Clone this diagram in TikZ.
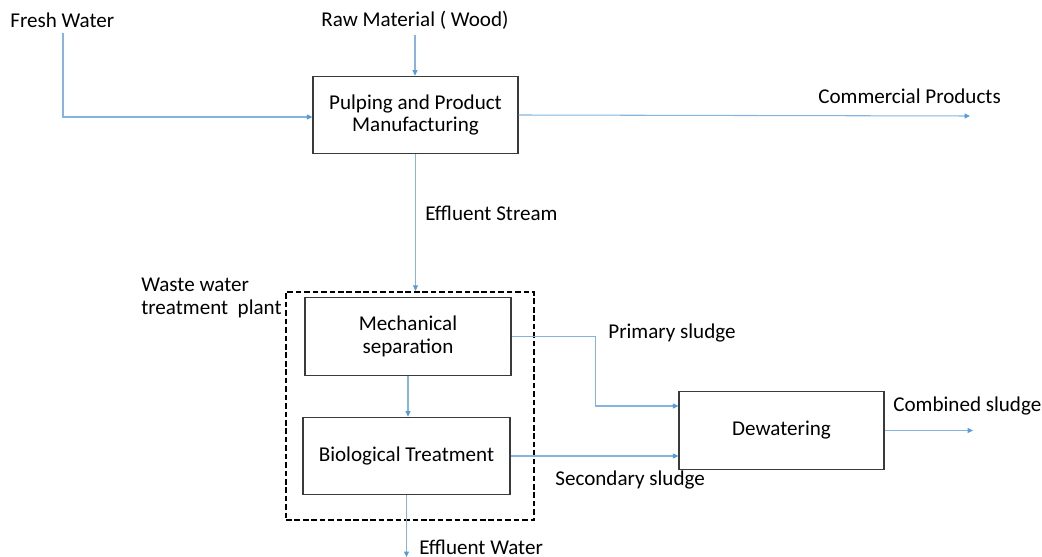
\documentclass[tikz,border=0pt]{standalone}
\usepackage{fontspec}
\setmainfont{Carlito}
\usepackage{tikz}
\usetikzlibrary{arrows.meta,positioning,calc}
\definecolor{FlowBlue}{HTML}{5B9BD5}
\definecolor{BoxGray}{HTML}{3A3A3A}

\begin{document}
\begin{tikzpicture}[x=0.02cm,y=-0.02cm,font=\fontsize{12}{13}\selectfont,
  unit/.style={draw=BoxGray,line width=0.7pt,align=center,minimum height=1.55cm,inner sep=2pt},
  plant/.style={draw,line width=1.3pt,dash pattern=on 3.2pt off 1.6pt,minimum width=4.96cm,minimum height=4.56cm},
  lbl/.style={inner sep=0pt,anchor=west},
  arr/.style={draw=FlowBlue!75,line width=0.6pt,-{Triangle[length=1.1mm,width=1mm,color=FlowBlue]}}]
  \useasboundingbox (0,0) rectangle (1042,557);
  % process units
  \node[unit,minimum width=4.1cm] (pulp) at (415.5,115) {Pulping and Product\\Manufacturing};
  \node[plant] (wwtp) at (410,406) {};
  \node[unit,minimum width=4.12cm] (mech) at (408,336.5) {Mechanical\\separation};
  \node[unit,minimum width=4.14cm] (bio) at (406.5,456) {Biological Treatment};
  \node[unit,minimum width=4.1cm] (dew) at (781.5,430.5) {Dewatering};
  % stream labels
  \node[lbl] (fresh) at (10,20) {Fresh Water};
  \node[inner sep=0pt] (raw) at (415,20) {Raw Material ( Wood)};
  \node[lbl] (comm) at (818,96) {Commercial Products};
  \node[lbl] (efs) at (425,213) {Effluent Stream};
  \node[inner sep=0pt,anchor=east,align=left] (wwlab) at (282,298) {Waste water\\treatment\ \ plant};
  \node[lbl] (prim) at (608,333) {Primary sludge};
  \node[lbl] (sec) at (555,480) {Secondary sludge};
  \node[lbl] (comb) at (893,406) {Combined sludge};
  \node[lbl] (efw) at (419,547) {Effluent Water};
  \coordinate (commend) at (970,116);
  \coordinate (combend) at (973,430.5);
  \coordinate (efwend) at (406.5,557);
  % streams
  \draw[arr] (63,33) |- (pulp.west |- 0,117);
  \draw[arr] (raw.south |- 0,35) -- (raw.south |- pulp.north);
  \draw[arr] (pulp.east) -- (commend);
  \draw[arr] (pulp.south) -- (pulp.south |- wwtp.north);
  \draw[arr] (mech) -- (mech |- bio.north);
  \draw[arr] (mech.east) -- ++(84,0) |- ([yshift=0.49cm]dew.west);
  \draw[arr] (bio.east) -- (bio.east -| dew.west);
  \draw[arr] (dew.east) -- (combend);
  \draw[arr] (bio.south) -- (efwend);
\end{tikzpicture}
\end{document}
